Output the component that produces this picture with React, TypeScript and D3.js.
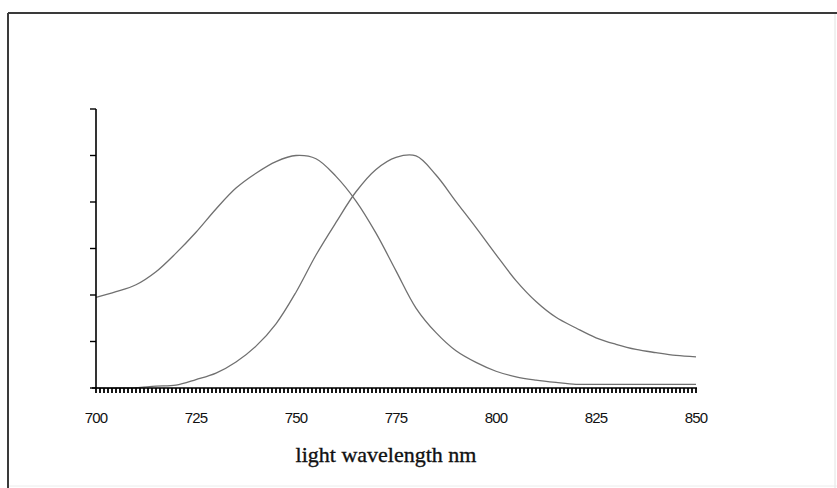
import React from "react";
import * as d3 from "d3";

// Wavelength samples (nm) and the two response curves read at each one
const wavelengths = [
  700, 705, 710, 715, 720, 725, 730, 735, 740, 745, 750, 755, 760, 765, 770,
  775, 780, 785, 790, 795, 800, 805, 810, 815, 820, 825, 830, 835, 840, 845, 850,
];
const curveShort = [
  1.95, 2.07, 2.22, 2.5, 2.9, 3.35, 3.85, 4.3, 4.62, 4.87, 5.0, 4.93, 4.55,
  4.02, 3.33, 2.52, 1.72, 1.19, 0.8, 0.55, 0.36, 0.24, 0.17, 0.12, 0.08, 0.08,
  0.08, 0.08, 0.08, 0.08, 0.08,
];
const curveLong = [
  0.0, 0.0, 0.01, 0.04, 0.06, 0.18, 0.32, 0.56, 0.9, 1.38, 2.06, 2.86, 3.56,
  4.22, 4.7, 4.96, 4.99, 4.58, 4.01, 3.45, 2.87, 2.31, 1.86, 1.52, 1.29, 1.08,
  0.94, 0.83, 0.76, 0.7, 0.67,
];
const xTickLabels = [700, 725, 750, 775, 800, 825, 850];
const yTicks = [0, 1, 2, 3, 4, 5, 6];
const xTitle = "light wavelength nm";

const W = 837;
const H = 488;

export default function App() {
  const x = d3.scaleLinear().domain([700, 850]).range([96, 696]);
  const y = d3.scaleLinear().domain([0, 6]).range([388, 109]);

  const line = d3
    .line<number>()
    .x((_, i) => x(wavelengths[i]))
    .y((d) => y(d))
    .curve(d3.curveCatmullRom.alpha(0.5));

  const minorTicks = d3.range(700, 851, 1);

  return (
    <div style={{ position: "absolute", left: 0, top: 0 }}>
      <svg width={W} height={H} style={{ display: "block", background: "#fff" }}>
        {/* frame */}
        <line x1={835} y1={13} x2={835} y2={H} stroke="#e2e2e2" strokeWidth={1} />
        <line x1={8} y1={486} x2={W} y2={486} stroke="#ececec" strokeWidth={1} />
        <line x1={8} y1={13} x2={W} y2={13} stroke="#3a3a3a" strokeWidth={2} />
        <line x1={8} y1={13} x2={8} y2={H} stroke="#3a3a3a" strokeWidth={2} />

        {/* curves */}
        <path d={line(curveShort) || ""} fill="none" stroke="#707070" strokeWidth={1.3} />
        <path d={line(curveLong) || ""} fill="none" stroke="#707070" strokeWidth={1.3} />

        {/* y axis */}
        <line x1={x(700)} y1={y(6)} x2={x(700)} y2={y(0)} stroke="#000" strokeWidth={1.6} />
        {yTicks.map((t) => (
          <line key={t} x1={x(700) - 6} y1={y(t)} x2={x(700)} y2={y(t)} stroke="#000" strokeWidth={1.4} />
        ))}

        {/* x axis */}
        <line x1={x(700) - 4} y1={y(0)} x2={x(850) + 1} y2={y(0)} stroke="#000" strokeWidth={1.6} />
        {minorTicks.map((t) => (
          <line key={t} x1={x(t)} y1={y(0)} x2={x(t)} y2={y(0) + 5} stroke="#000" strokeWidth={1.8} />
        ))}
        {xTickLabels.map((t) => (
          <text
            key={t}
            x={x(t)}
            y={423}
            textAnchor="middle"
            fontFamily="'Liberation Sans', Arial, sans-serif"
            fontSize={15}
            letterSpacing={-0.8}
            fill="#111"
          >
            {t}
          </text>
        ))}

        <text
          x={386}
          y={462}
          textAnchor="middle"
          fontFamily="'Liberation Serif', 'Times New Roman', serif"
          fontSize={22}
          fill="#111"
          stroke="#111"
          strokeWidth={0.35}
        >
          {xTitle}
        </text>
      </svg>
    </div>
  );
}
